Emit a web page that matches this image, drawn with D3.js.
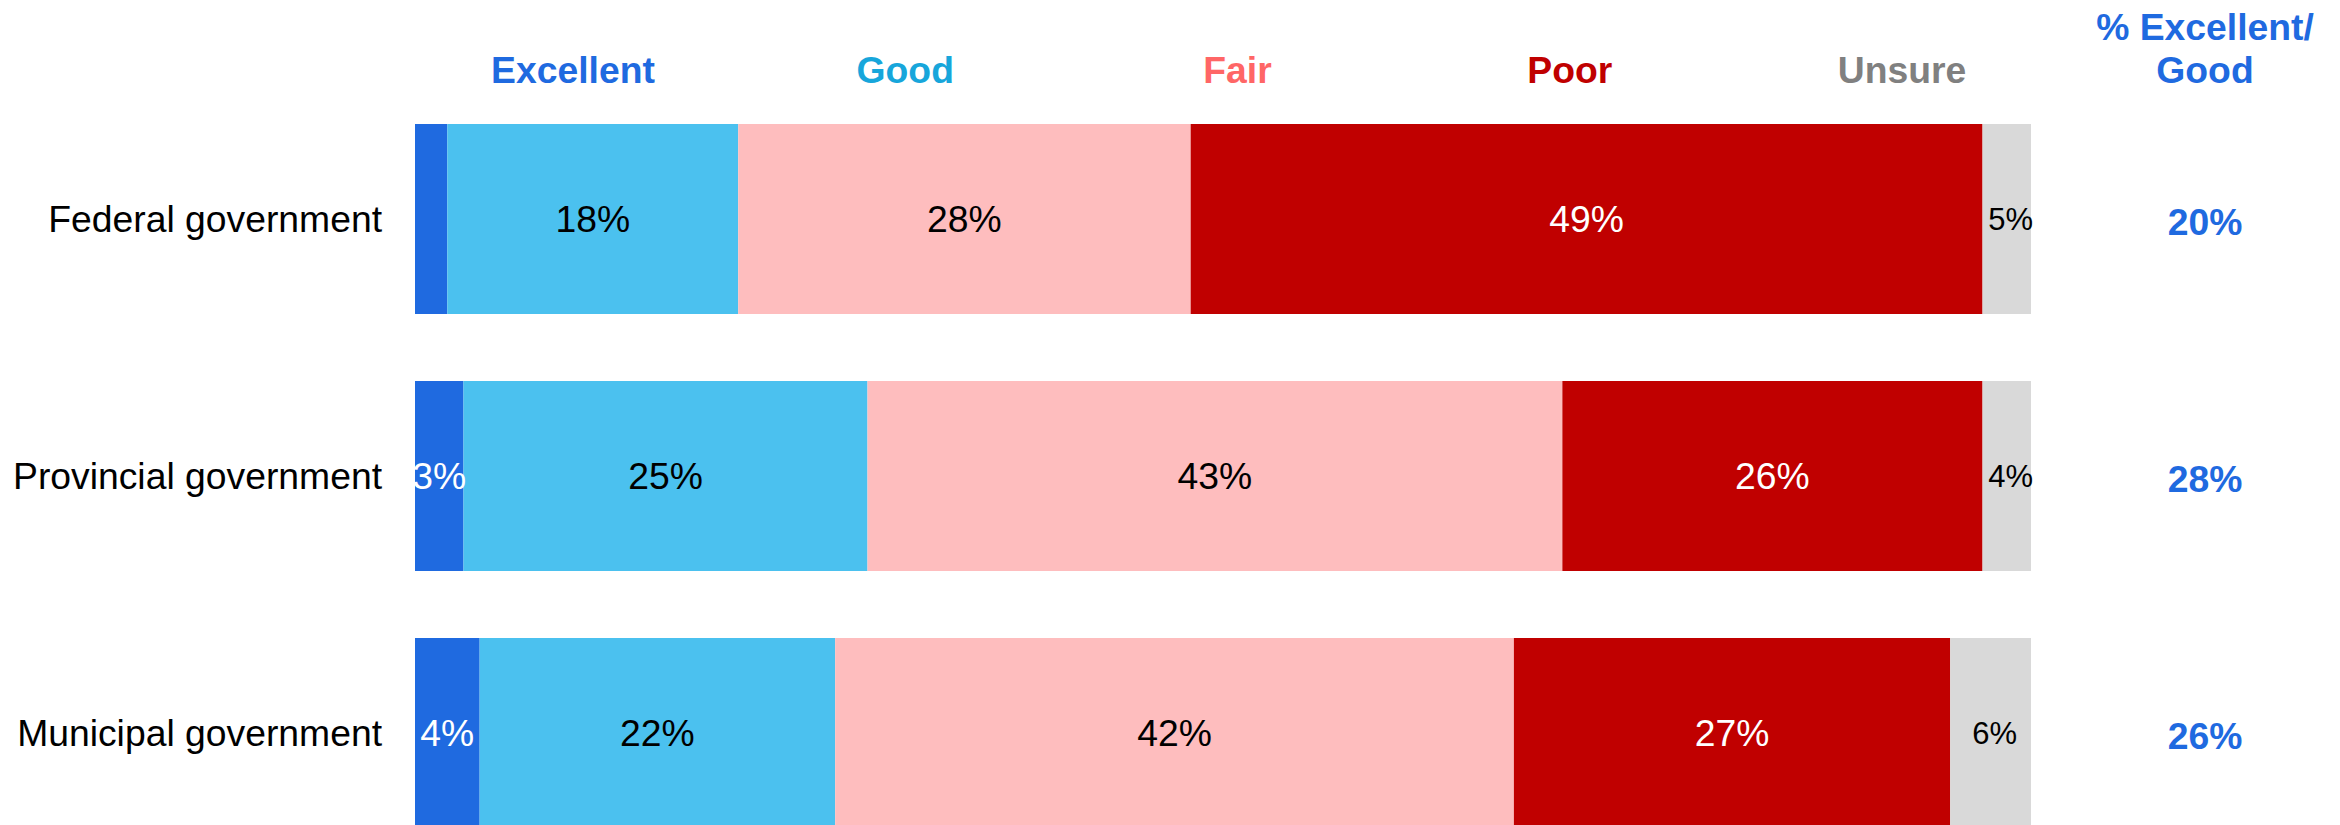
<!DOCTYPE html>
<html>
<head>
<meta charset="utf-8">
<script src="https://cdn.jsdelivr.net/npm/d3@7"></script>
<style>
  html, body { margin: 0; padding: 0; background: #fff; }
  svg { display: block; font-family: "Liberation Sans", Arial, sans-serif; }
</style>
</head>
<body>
<div id="chart"></div>
<script>
// data
var categories = ["Federal government", "Provincial government", "Municipal government"];
var ratings = ["Excellent", "Good", "Fair", "Poor", "Unsure"];
var excellent = [2, 3, 4];
var good = [18, 25, 22];
var fair = [28, 43, 42];
var poor = [49, 26, 27];
var unsure = [5, 4, 6];
var excellentGood = [20, 28, 26];

var seriesValues = [excellent, good, fair, poor, unsure];

// styling
var barColors = ["#1F6AE0", "#4BC1EF", "#FEBDBE", "#C00000", "#D9D9D9"];
var headColors = ["#1F6AE0", "#17A6DB", "#FF6666", "#C00000", "#808080"];
var labelColors = ["#fff", "#000", "#000", "#fff", "#000"];

var width = 2340, height = 825;
var fontSize = 37.3;

var svg = d3.select("#chart").append("svg")
  .attr("width", width)
  .attr("height", height);

// scales
var x = d3.scaleLinear().domain([0, 100]).range([415, 2031]).clamp(true);
var y = d3.scaleBand().domain(categories).range([124, 828]).paddingInner(0.2607).paddingOuter(0);
var header = d3.scalePoint().domain(ratings).range([573, 1902]);

// build stacked rows
var rows = categories.map(function (c, i) {
  var row = {category: c};
  ratings.forEach(function (r, k) { row[r] = seriesValues[k][i]; });
  return row;
});
var stacked = d3.stack().keys(ratings)(rows);

// headers
svg.append("g").selectAll("text")
  .data(ratings)
  .enter().append("text")
    .attr("x", function (d) { return header(d); })
    .attr("y", 83)
    .attr("text-anchor", "middle")
    .attr("font-weight", "bold")
    .attr("font-size", fontSize)
    .attr("fill", function (d, i) { return headColors[i]; })
    .text(function (d) { return d; });

var pctHead = svg.append("text")
  .attr("text-anchor", "middle")
  .attr("font-weight", "bold")
  .attr("font-size", fontSize)
  .attr("fill", "#1F6AE0");
pctHead.append("tspan").attr("x", 2205).attr("y", 40).text("% Excellent/");
pctHead.append("tspan").attr("x", 2205).attr("y", 83).text("Good");

// category labels
svg.append("g").selectAll("text")
  .data(categories)
  .enter().append("text")
    .attr("x", 382)
    .attr("y", function (d) { return y(d) + y.bandwidth() / 2; })
    .attr("dy", "0.35em")
    .attr("text-anchor", "end")
    .attr("font-size", fontSize)
    .attr("fill", "#000")
    .text(function (d) { return d; });

// bars
var layer = svg.append("g").selectAll("g")
  .data(stacked)
  .enter().append("g")
    .attr("fill", function (d, i) { return barColors[i]; });

layer.selectAll("rect")
  .data(function (d) { return d; })
  .enter().append("rect")
    .attr("x", function (d) { return x(d[0]); })
    .attr("y", function (d) { return y(d.data.category); })
    .attr("width", function (d) { return x(d[1]) - x(d[0]); })
    .attr("height", y.bandwidth());

// segment labels
stacked.forEach(function (s, k) {
  svg.append("g").selectAll("text")
    .data(s.filter(function (d) { return d[1] - d[0] >= 3; }))
    .enter().append("text")
      .attr("x", function (d) {
        var mid = (x(d[0]) + x(d[1])) / 2;
        return k === ratings.length - 1 ? mid + 4 : mid;
      })
      .attr("y", function (d) { return y(d.data.category) + y.bandwidth() / 2; })
      .attr("dy", "0.35em")
      .attr("text-anchor", "middle")
      .attr("font-size", k === ratings.length - 1 ? 31 : fontSize)
      .attr("fill", labelColors[k])
      .text(function (d) { return (d[1] - d[0]) + "%"; });
});

// % excellent / good column
svg.append("g").selectAll("text")
  .data(excellentGood)
  .enter().append("text")
    .attr("x", 2205)
    .attr("y", function (d, i) { return y(categories[i]) + y.bandwidth() / 2 + 3; })
    .attr("dy", "0.35em")
    .attr("text-anchor", "middle")
    .attr("font-weight", "bold")
    .attr("font-size", fontSize)
    .attr("fill", "#1F6AE0")
    .text(function (d) { return d + "%"; });
</script>
</body>
</html>
